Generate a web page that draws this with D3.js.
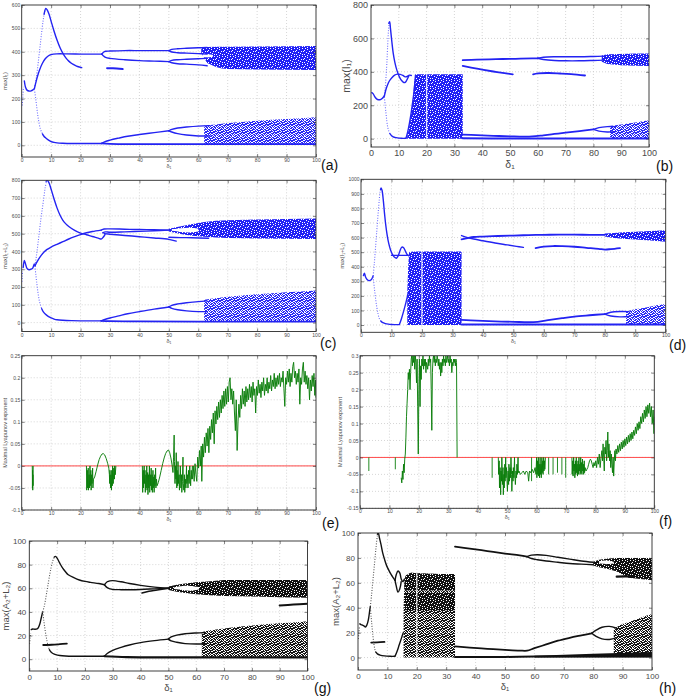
<!DOCTYPE html>
<html><head><meta charset="utf-8">
<script src="https://cdn.jsdelivr.net/npm/d3@7"></script>
<style>body{margin:0;background:#fff}svg{display:block}</style>
</head><body><svg id="c" width="689" height="697"></svg>
<script>
// ================= DATA =================
const xTicks = [0,10,20,30,40,50,60,70,80,90,100];
const aYTicks = [0,100,200,300,400,500,600];
const bYTicks = [0,200,400,600,800];
const cYTicks = [0,100,200,300,400,500,600,700,800];
const dYTicks = [0,100,200,300,400,500,600,700,800,900,1000];
const eYTicks = [-0.1,-0.05,0,0.05,0.1,0.15,0.2,0.25];
const fYTicks = [-0.15,-0.1,-0.05,0,0.05,0.1,0.15,0.2,0.25,0.3];
const gYTicks = [0,20,40,60,80,100];
const hYTicks = [0,20,40,60,80,100];

// ---- panel (a): max(I1) ----
const aStartDot = [[0.2,170],[0.4,210],[0.6,250]];
const aStart = [[0.9,275],[1.3,248],[1.8,236],[2.5,232],[3.2,233],[3.8,237],[4.3,242]];
const aUpDot = [[4.3,242],[4.8,275],[5.3,320],[5.8,375],[6.3,430],[6.8,485],[7.3,535],[7.8,570],[8.2,585]];
const aPeak = [[7.6,560],[8.2,585],[8.7,578],[9.3,560],[10,530],[11,488],[12,450],[13,418],[14,393],[15,374],[16,360],[17,350],[18,343],[19,337],[20.4,332]];
const aMid = [[4.3,242],[4.8,268],[5.3,292],[6,320],[7,350],[8,370],[9,382],[10,388],[12,391],[15,391],[20,390],[25,390],[27.2,390]];
const aMidUp = [[27.2,390],[27.8,398],[28.5,402],[30,403],[35,405],[40,405],[45,405],[50,405]];
const aMidLo = [[27.2,390],[27.8,382],[28.5,376],[30,372],[35,366],[40,362],[45,360],[50,358]];
const aMidUpUp = [[50,405],[51,410],[53,413],[56,415],[60,417],[63,418]];
const aMidUpLo = [[50,405],[51,399],[53,396],[56,394],[60,392],[63,390]];
const aMidLoUp = [[50,358],[51,363],[53,366],[56,368],[60,370],[63,372]];
const aMidLoLo = [[50,358],[51,353],[53,349],[56,347],[60,344],[63,340]];
const aDash = [[29,330],[31,329],[34.3,326]];
const aDownDot = [[4.3,240],[4.7,205],[5.1,165],[5.5,125],[5.9,95],[6.3,72],[6.7,58],[7.1,48]];
const aLow = [[7.1,48],[7.5,40],[8,33],[9,23],[10,16],[11,12.5],[12,10.5],[14,9],[17,8],[20,8],[24,8],[27.2,8]];
const aLowRise = [[27.2,8],[28,14],[30,22],[33,31],[36,39],[40,46],[45,54],[50,62]];
const aBase = [[27.2,8],[30,6],[40,5],[60,5],[80,5],[100,5]];
const aLowUp = [[50,62],[51,68],[53,74],[56,78],[60,82],[64,84]];
const aLowLo = [[50,62],[51,57],[53,50],[56,44],[60,40],[64,40]];
const aBandTop = [[61,395,419],[63,352,420],[66,335,421],[68,328,421],[70,326,422],[80,324,423],[90,323,424],[100,322,425]];
const aHoleTop = [[61.5,377,391],[63,376,390],[65,379,386]];
const aBandLow = [[62,5,85],[64,5,87],[66,5,89],[70,5,95],[75,5,100],[80,5,105],[85,5,109],[90,5,112],[95,5,116],[100,5,120]];

// ---- panel (b): max(I1) ----
const bStart = [[0.3,275],[0.8,268],[1.4,250],[2,238],[2.7,233],[3.4,234],[4,240],[4.8,255]];
const bUpDot = [[4.8,255],[5.1,300],[5.4,370],[5.7,450],[6,560],[6.3,650],[6.6,700]];
const bPeak = [[6.4,690],[6.7,700],[7,660],[7.5,580],[8,510],[8.6,455],[9.3,410],[10.2,370],[11,348],[11.8,336],[12.4,338],[13,355],[13.6,375]];
const bMid = [[4.8,255],[5.3,290],[5.9,320],[6.6,345],[7.5,365],[8.5,380],[9.5,386],[10.5,385],[11.5,378],[12.3,370],[13,372],[13.8,380],[14.5,378]];
const bDownDot = [[4.8,250],[5.1,200],[5.4,150],[5.7,105],[6,70],[6.4,45],[6.8,30]];
const bLow = [[6.8,30],[7.4,18],[8,11],[9,6],[10,3],[11,2],[12.5,2]];
const bRise = [[12.6,2],[13.2,40],[13.8,90],[14.4,150],[15,220],[15.6,300],[16,380]];
const bBlock = [[13,0,10],[14,0,90],[15,0,220],[15.5,0,330],[16,0,385],[20,0,386],[25,0,386],[30,0,386],[33,0,386]];
const bWin = [[20,0,386]];
const bTop = [[33,470],[38,473],[45,476],[52,478],[58,480],[60,481]];
const bTopUp = [[60,481],[62,487],[66,490],[70,490],[75,490],[80,492],[84,494]];
const bTopLo = [[60,481],[62,474],[66,468],[70,466],[75,466],[80,468],[84,470]];
const bBandTop = [[83,460,497],[85,447,505],[90,440,507],[95,437,509],[100,435,510]];
const bDesc = [[33,435],[36,425],[40,413],[44,402],[48,392],[51,385]];
const bSeg = [[58.3,385],[60,391],[64,393],[68,390],[72,386],[77,378]];
const bLowLine = [[33,24],[38,21],[44,17],[50,14],[55,12],[58,13],[62,20],[66,28],[70,36],[75,45],[80,55]];
const bLowUp = [[80,55],[82,66],[85,72],[88,72]];
const bLowLo = [[80,55],[82,45],[85,40],[88,42]];
const bBandLow = [[86,2,75],[90,2,85],[95,2,97],[100,2,110]];
const bBase = [[33,2],[50,1],[70,1],[100,1]];

// ---- panel (c): max(I1+L1) ----
const cStartDot = [[0.1,230],[0.2,260],[0.3,290]];
const cStart = [[0.5,310],[0.9,350],[1.3,330],[1.8,305],[2.5,297],[3.2,300],[3.8,308],[4.3,330],[4.6,318]];
const cUpDot = [[4.5,320],[5,375],[5.5,440],[6,510],[6.5,580],[7,640],[7.5,700],[8,760],[8.5,800]];
const cPeak = [[8.3,795],[8.7,800],[9.3,785],[10,750],[11,695],[12,645],[13,605],[14,575],[15,555],[16,540],[18,518],[20,503],[22,494],[24,484],[26,475],[27,470],[27.6,478],[28.3,495]];
const cMid = [[4.5,320],[5,335],[5.5,350],[6.5,375],[7.5,395],[8.5,410],[10,425],[12,440],[14,455],[16,470],[18,483],[20,495],[22,505],[24,512],[27,520]];
const cAfterUp = [[27,520],[28,526],[30,527],[35,525],[40,523],[45,522],[50,520]];
const cAfterLo = [[27.5,505],[28.5,510],[30,508],[35,510],[40,513],[45,516],[50,520]];
const cDesc1 = [[28,500],[30,497],[35,490],[40,483],[45,476],[50,468],[52.5,458]];
const cDesc2 = [[50,480],[54,478],[58,477],[63.5,474]];
const cBandTop = [[50,512,528],[52,505,535],[55,495,545],[58,488,555],[62,482,565],[66,478,572],[70,475,576],[80,473,580],[90,471,583],[100,470,585]];
const cHoleTop = [[51,516,524],[54,510,530],[57,507,533],[60,512,528]];
const cDownDot = [[4.5,318],[4.8,270],[5.1,225],[5.4,185],[5.7,150],[6,122],[6.4,98],[6.8,78]];
const cLow = [[6.8,78],[7.3,62],[8,48],[9,35],[10,26],[11,20],[12,16],[14,13],[17,11],[20,10],[24,10],[27,10]];
const cLowRise = [[27,10],[28,16],[30,26],[33,38],[36,50],[40,62],[45,76],[50,88]];
const cBase = [[27,10],[30,8],[40,7],[60,6],[100,6]];
const cLowUp = [[50,88],[51,97],[53,105],[56,112],[60,118],[63,122]];
const cLowLo = [[50,88],[51,80],[53,72],[56,66],[60,62],[63,62]];
const cBandLow = [[62,5,128],[65,5,135],[70,5,145],[75,5,153],[80,5,160],[85,5,165],[90,5,170],[95,5,175],[100,5,180]];

// ---- panel (d): max(I1+L1) ----
const dStart = [[0.8,340],[1.1,355],[1.5,330],[2,312],[2.5,305],[3,306],[3.5,315],[4,338]];
const dUpDot = [[4,338],[4.4,430],[4.8,540],[5.2,650],[5.6,760],[6,860],[6.3,920],[6.6,940]];
const dPeak = [[6.4,930],[6.6,940],[6.9,925],[7.3,860],[7.7,770],[8.1,690],[8.6,615],[9.1,560],[9.7,515],[10.3,485],[11,465],[11.6,458],[12.2,475],[12.8,510],[13.4,535],[14,530],[14.6,505],[15.2,482],[15.8,475]];
const dFlat = [[10,478],[12,478],[14,478],[16,478]];
const dDownDot = [[4,330],[4.4,250],[4.8,180],[5.2,120],[5.6,75],[6,45],[6.5,28]];
const dLow = [[6.5,28],[7,18],[8,10],[9,6],[10,4],[11,3],[12.5,3]];
const dRise = [[12.6,3],[13.3,45],[14,95],[14.7,150],[15.4,210]];
const dBlock = [[15.2,0,230],[15.5,0,400],[15.8,0,500],[17,0,505],[20,0,505],[25,0,505],[30,0,505],[33,0,505]];
const dWin = [[20,0,505]];
const dTop = [[33,588],[35,597],[37,604],[40,607],[45,611],[50,614],[55,617],[60,619],[65,620],[70,620],[75,619],[80,618]];
const dDesc = [[33,614],[35,600],[37,590],[40,578],[44,563],[48,550],[51,540],[53.3,533]];
const dSeg = [[57.3,528],[60,538],[63,542],[66,541],[70,537],[74,530],[78,523],[80,518],[82,521],[85,528]];
const dBandTop = [[80,607,628],[83,598,632],[86,592,636],[90,587,640],[95,580,645],[100,572,650]];
const dLowLine = [[33,35],[38,30],[44,25],[50,22],[55,19],[58,22],[62,35],[66,47],[70,58],[75,67],[80,75]];
const dLowUp = [[80,75],[82,88],[85,93],[88,92]];
const dLowLo = [[80,75],[82,62],[85,56],[88,58]];
const dBandLow = [[87,3,95],[90,3,108],[94,3,122],[97,3,135],[100,3,145]];
const dBase = [[33,3],[60,3],[100,3]];

// ---- panel (e): maximal Lyapunov exponent ----
const eSeg1 = [[3.6,0],[3.65,-0.05],[3.7,-0.01],[3.75,-0.055],[3.8,-0.02],[3.85,-0.045],[3.9,0]];
const eSeg2 = [[22,0],[22.1,-0.055],[22.3,-0.01],[22.4,-0.05],[22.6,-0.005],[22.7,-0.055],[22.9,-0.02],[23.0,-0.05],[23.2,0],[23.3,-0.045],[23.5,-0.01],[23.6,-0.055],[23.8,-0.02],[23.9,-0.04],[24.1,-0.005],[24.2,-0.05],[24.4,-0.03],
 [24.8,-0.025],[25.3,-0.012],[25.8,0.002],[26.3,0.014],[26.8,0.022],[27.3,0.027],[27.7,0.028],[28.2,0.025],[28.7,0.017],[29.2,0.006],[29.6,-0.005],
 [29.8,-0.02],[29.9,-0.04],[30.0,-0.01],[30.2,-0.05],[30.3,-0.02],[30.5,-0.055],[30.6,-0.01],[30.8,-0.045],[30.9,0],[31.1,-0.04],[31.3,-0.005],[31.5,-0.03],[31.6,0],[31.8,-0.02],[32,0]];
const eSeg3 = [[41,0],[41.1,-0.06],[41.3,-0.01],[41.4,-0.05],[41.6,0],[41.7,-0.04],[41.9,-0.01],[42,-0.06],[42.2,-0.02],[42.3,-0.05],[42.5,0],[42.6,-0.055],[42.8,-0.015],[42.9,-0.065],[43.1,-0.02],[43.2,-0.05],[43.4,0],[43.5,-0.06],[43.7,-0.02],[43.8,-0.045],[44,-0.005],[44.1,-0.055],[44.3,-0.02],[44.4,-0.06],[44.6,-0.01],[44.7,-0.05],[44.9,-0.025],[45,-0.06],[45.2,-0.02],[45.3,-0.045],[45.5,-0.005],[45.6,-0.05],[45.8,-0.03],[46,-0.045],
 [46.4,-0.038],[46.9,-0.025],[47.4,-0.01],[47.9,0.005],[48.4,0.018],[48.9,0.028],[49.4,0.034],[49.9,0.036],[50.3,0.03],[50.7,0.018],[51.1,0.002],[51.4,-0.015],
 [51.6,0.02],[51.8,0.07],[51.9,0.01],[52.1,-0.04],[52.2,0.0],[52.4,-0.03],[52.5,0.03],[52.7,-0.05],[52.8,-0.01],[53,-0.045],[53.1,0.01],[53.3,-0.04],[53.5,-0.02],[53.6,-0.055],[53.8,-0.03],[53.9,0.0],[54.1,-0.05],[54.3,-0.02],[54.4,-0.06],[54.6,-0.035],[54.8,0.02],[54.9,-0.04],[55.1,-0.055],[55.3,-0.02],[55.4,-0.06],[55.6,-0.03],[55.8,-0.05],[56,0],[56.1,-0.04],[56.3,-0.02],[56.5,-0.05],[56.7,-0.01],[56.9,-0.04],[57.1,0],[57.2,-0.02],[57.4,-0.045],[57.6,-0.01],[57.8,-0.03],[58,0]];
const eSeg4 = [[58.0,-0.03],[58.3,0.0],[58.6,-0.035],[58.9,0.005],[59.2,-0.02],[59.5,-0.035],[59.8,0.02],[60.1,-0.005],[60.4,0.035],[60.7,0.0],[61.0,0.045],[61.2,-0.035],[61.5,0.05],[61.8,0.02],[62.1,0.065],[62.4,0.03],[62.7,0.075],[63.0,0.045],[63.3,0.085],[63.6,0.03],[63.9,0.09],[64.2,0.06],[64.5,0.105],[64.8,0.075],[65.1,0.12],[65.4,0.05],[65.7,0.125],[66.0,0.095],[66.3,0.135],[66.6,0.105],[66.9,0.145],[67.2,0.11],[67.5,0.15],[67.8,0.12],[68.1,0.16],[68.4,0.13],[68.7,0.17],[69.0,0.135],[69.3,0.175],[69.6,0.14],[69.9,0.18],[70.2,0.145],[70.5,0.19],[70.8,0.2],[71.1,0.15],[71.4,0.175],[71.7,0.14],[72.0,0.17],[72.3,0.12],[72.6,0.08],[72.9,0.15],[73.2,0.035],[73.5,0.1],[73.8,0.14],[74.1,0.11],[74.4,0.16],[74.7,0.13],[75.0,0.175],[75.3,0.14],[75.6,0.17],[75.9,0.135],[76.2,0.18],[76.5,0.145],[76.8,0.175],[77.1,0.15],[77.4,0.185],[77.7,0.155],[78.0,0.18],[78.3,0.145],[78.6,0.19],[78.9,0.16],[79.2,0.175],[79.5,0.12],[79.8,0.18],[80.1,0.16],[80.4,0.195],[80.7,0.165],[81.0,0.185],[81.3,0.155],[81.6,0.19],[81.9,0.17],[82.2,0.2],[82.5,0.16],[82.8,0.185],[83.1,0.17],[83.4,0.2],[83.7,0.165],[84.0,0.19],[84.3,0.175],[84.6,0.205],[84.9,0.17],[85.2,0.195],[85.5,0.18],[85.8,0.21],[86.1,0.175],[86.4,0.2],[86.7,0.18],[87.0,0.205],[87.3,0.185],[87.6,0.21],[87.9,0.18],[88.2,0.2],[88.5,0.19],[88.8,0.215],[89.1,0.175],[89.4,0.135],[89.7,0.2],[90.0,0.185],[90.3,0.215],[90.6,0.19],[90.9,0.22],[91.2,0.18],[91.5,0.21],[91.8,0.19],[92.1,0.225],[92.4,0.235],[92.7,0.2],[93.0,0.215],[93.3,0.185],[93.6,0.21],[93.9,0.19],[94.2,0.22],[94.5,0.14],[94.8,0.2],[95.1,0.185],[95.4,0.22],[95.7,0.235],[96.0,0.19],[96.3,0.215],[96.6,0.185],[96.9,0.205],[97.2,0.175],[97.5,0.2],[97.8,0.15],[98.1,0.195],[98.4,0.17],[98.7,0.205],[99.0,0.18],[99.3,0.21],[99.6,0.16],[99.9,0.195],[100,0.155]];

// ---- panel (f): maximal Lyapunov exponent ----
const fSpikes = [[3,-0.04],[12,-0.035],[44.9,-0.06],[58.3,-0.07],[64.1,-0.05],[65.6,-0.05],[67.1,-0.045],[68.6,-0.05],[69.9,-0.06]];
const fSeg3 = [[14.0,-0.06],[14.2,-0.075],[14.4,-0.04],[14.6,-0.065],[14.8,-0.02],[15.0,-0.045],[15.2,-0.005],[15.4,0.01],[15.6,0.06],[15.8,0.12],[16.0,0.16],[16.2,0.2],[16.4,0.25],[16.6,0.23],[16.8,0.26],[17.0,0.2],[17.2,0.25],[17.4,0.29],[17.6,0.3],[17.8,0.27],[18.0,0.3],[18.2,0.28],[18.4,0.3],[18.6,0.26],[18.8,0.3],[19.0,0.28],[19.2,0.22],[19.4,0.29],[19.6,0.15],[19.8,0.01],[20.0,0.2],[20.2,0.29],[20.4,0.15],[20.6,0.27],[20.8,0.23],[21.0,0.29],[21.2,0.27],[21.4,0.3],[21.6,0.26],[21.8,0.29],[22.0,0.27],[22.2,0.29],[22.4,0.25],[22.6,0.28],[22.8,0.27],[23.0,0.26],[23.2,0.29],[23.4,0.27],[23.6,0.3],[23.8,0.28],[24.0,0.29],[24.2,0.2],[24.4,0.08],[24.6,0.25],[24.8,0.29],[25.0,0.3],[25.2,0.28],[25.4,0.3],[25.6,0.27],[25.8,0.29],[26.0,0.28],[26.2,0.3],[26.4,0.29],[26.6,0.27],[26.8,0.29],[27.0,0.26],[27.2,0.28],[27.4,0.24],[27.6,0.28],[27.8,0.25],[28.0,0.29],[28.2,0.27],[28.4,0.3],[28.6,0.28],[28.8,0.29],[29.0,0.27],[29.2,0.3],[29.4,0.28],[29.6,0.29],[29.8,0.3],[30.0,0.28],[30.2,0.29],[30.4,0.27],[30.6,0.3],[30.8,0.28],[31.0,0.29],[31.2,0.25],[31.4,0.28],[31.6,0.27],[31.8,0.29],[32.0,0.28],[32.2,0.29],[32.4,0.27],[32.6,0.29],[32.8,0.28],[33.0,0.0]];
const fSeg5 = [[47,0],[47.1,-0.05],[47.3,-0.01],[47.4,-0.09],[47.6,-0.03],[47.8,-0.11],[47.9,-0.04],[48.1,-0.07],[48.2,0],[48.4,-0.08],[48.6,-0.03],[48.7,-0.11],[48.9,-0.05],[49.0,-0.09],[49.2,-0.02],[49.3,-0.07],[49.5,0],[49.6,-0.06],[49.8,-0.03],[50.0,-0.08],[50.1,-0.1],[50.3,-0.04],[50.5,-0.08],[50.6,-0.02],[50.8,-0.07],[51.0,-0.03],[51.1,-0.06],[51.3,0],[51.5,-0.05],[51.6,-0.1],[51.8,-0.04],[52.0,-0.07],[52.1,-0.03],[52.3,-0.06],[52.5,0],[52.6,-0.05],[52.8,-0.08],[53.0,-0.04],[53.2,-0.06],[53.3,-0.02],[53.5,-0.05],[53.7,0],[53.8,-0.045],[54.0,-0.04],[54.5,-0.05],[55,-0.045],[55.5,-0.04],[56,-0.05],[56.5,-0.04],[57,-0.045],[57.3,-0.07],[57.6,-0.04],[58,-0.045],[58.5,-0.035],[59,-0.045],[59.5,-0.03],[59.8,-0.05],
 [60.0,0],[60.1,-0.06],[60.3,-0.01],[60.4,-0.05],[60.6,0],[60.7,-0.055],[60.9,-0.02],[61,-0.06],[61.2,0],[61.3,-0.05],[61.5,-0.02],[61.6,-0.06],[61.8,0],[61.9,-0.045],[62.1,-0.01],[62.2,-0.05],[62.4,0],[62.5,-0.04],[62.7,-0.01],[62.8,-0.035],[63,0]];
const fSeg7 = [[72.0,0],[72.1,-0.05],[72.3,-0.01],[72.4,-0.055],[72.6,0],[72.7,-0.04],[72.9,-0.02],[73.0,-0.06],[73.2,-0.01],[73.3,-0.05],[73.5,0],[73.6,-0.045],[73.8,-0.02],[73.9,-0.055],[74.1,-0.01],[74.2,-0.05],[74.4,0],[74.5,-0.04],[74.7,-0.02],[74.8,-0.05],[75.0,0],[75.1,-0.045],[75.3,-0.015],[75.4,-0.05],[75.6,-0.005],[75.7,-0.04],[75.9,-0.02],[76.0,-0.05],[76.2,-0.01],[76.3,-0.045],[76.5,-0.03],[76.8,-0.04],[77.1,-0.035],[77.4,-0.03],[77.7,-0.02],[78.0,-0.01],[78.3,-0.005],[78.6,-0.01],[78.9,-0.02],[79.2,-0.03],[79.5,-0.015],[79.8,-0.025],[80.1,-0.01],[80.4,-0.03],[80.7,0.0],[81.0,-0.02],[81.3,0.01],[81.6,-0.03],[81.9,0.0],[82.2,0.02],[82.4,-0.01],[82.6,0.04],[82.8,0.0],[83.0,-0.04],[83.2,0.03],[83.4,0.01],[83.6,0.05],[83.8,-0.01],[84.0,0.02],[84.2,0.075],[84.4,0.0],[84.6,0.04],[84.8,-0.01],[85.0,0.02],[85.2,-0.03],[85.4,0.01],[85.6,-0.02],[85.8,-0.045],[86.0,0.0],[86.2,-0.055],[86.4,-0.01],[86.6,0.02],[86.8,-0.01],[87.0,0.025],[87.3,0.01],[87.6,0.035],[87.9,0.015],[88.2,0.04],[88.5,0.02],[88.8,0.045],[89.1,0.025],[89.4,0.05],[89.7,0.03],[90.0,0.055],[90.3,0.035],[90.6,0.06],[90.9,0.04],[91.2,0.065],[91.5,0.045],[91.8,0.07],[92.1,0.05],[92.4,0.075],[92.7,0.055],[93.0,0.08],[93.3,0.065],[93.6,0.09],[93.9,0.07],[94.2,0.1],[94.5,0.08],[94.8,0.105],[95.1,0.085],[95.4,0.12],[95.7,0.1],[96.0,0.13],[96.3,0.105],[96.6,0.14],[96.9,0.115],[97.2,0.15],[97.5,0.12],[97.8,0.155],[98.1,0.13],[98.4,0.16],[98.7,0.12],[99.0,0.15],[99.3,0.1],[99.6,0.14],[99.9,0.07],[100,0.12]];

// ---- panel (g): max(A2+L2) ----
const gStartDot = [[0.1,13],[0.3,18],[0.5,22]];
const gStart = [[0.7,25],[1.2,25.5],[2,25.3],[2.8,25.6],[3.3,27],[3.8,30],[4.3,35],[4.8,40]];
const gUpDot = [[4.8,40],[5.3,44],[5.8,50],[6.3,57],[6.8,64],[7.3,71],[7.8,77],[8.3,82],[8.8,85.5],[9.3,87]];
const gPeak = [[9,86.5],[9.4,87],[10,85.5],[11,81],[12,77],[13,74],[14,71.5],[16,69],[18,67],[20,65.8],[22,65],[25,64],[27,63]];
const gUp1 = [[27,63],[28,65.5],[29,66.3],[30,66.5],[33,65.5],[36,64],[40,62.5],[45,61],[50,60]];
const gLo1 = [[27,63],[28,60.5],[29,59.5],[30,59],[33,58.8],[36,58.8],[40,59],[45,59.5],[50,60]];
const gExtra = [[40.5,56],[43,57.5],[46,58.5],[50,60]];
const gBandTop = [[50,58.5,61.5],[53,57,63],[56,56,64],[60,55,65],[65,54,66],[70,53.5,67],[80,53,67],[90,52.5,67],[100,52,67]];
const gHoleTop = [[52,59.3,60.7],[55,58.5,62],[58,58,62],[61,59,61]];
const gSeg = [[90,45.5],[95,46.2],[100,47]];
const gShort = [[5,12],[8,12.2],[11,12.7],[13.5,13.2]];
const gDownDot = [[4.8,40],[5.2,33],[5.6,26],[6,20],[6.4,15],[6.8,11],[7.2,8]];
const gLow = [[7.2,8],[7.8,6],[8.5,4.8],[9.5,3.8],[11,3.1],[13,2.7],[16,2.5],[20,2.5],[27,2.5]];
const gLowRise = [[27,2.5],[28,4.8],[30,7.5],[33,10],[36,12],[40,14],[45,15.7],[50,17]];
const gBase = [[27,2.5],[35,1.8],[50,1.5],[100,1.5]];
const gLowUp = [[50,17],[51,18.8],[53,20.3],[56,21.5],[60,22.2],[63,22.5]];
const gLowLo = [[50,17],[51,15.5],[53,14.3],[56,13.2],[60,12.8],[63,13]];
const gBandLow = [[62,1,23],[65,1,24.5],[70,1,26],[75,1,27.5],[80,1,28.5],[85,1,29.5],[90,1,30.5],[95,1,31],[100,1,32]];

// ---- panel (h): max(A2+L2) ----
const hStartDot = [[0.1,15],[0.3,20],[0.5,25]];
const hStart = [[0.6,27],[1,26.5],[1.5,26],[2,25.5],[2.5,24.5],[3,26],[3.5,30],[4,38],[4.2,41]];
const hUpDot = [[4.2,41],[4.6,50],[5,60],[5.4,70],[5.8,80],[6.2,90],[6.6,98],[6.8,100]];
const hPeak = [[6.6,99],[6.9,100],[7.3,96],[7.8,91],[8.4,84],[9,79],[9.7,74],[10.5,70],[11.3,66.5],[12,64],[12.6,62]];
const hLoopUp = [[12.6,62],[13,66.5],[13.6,69.5],[14.2,68],[14.7,63],[15.2,61],[15.8,63]];
const hLoopLo = [[12.6,62],[13,57.5],[13.6,52.5],[14.2,55],[14.7,61]];
const hShort = [[4.5,12],[6.5,12.1],[9,12.5]];
const hDownDot = [[4.2,40],[4.5,32],[4.8,24],[5.1,17],[5.4,11],[5.7,7],[6,4.5]];
const hLow = [[6,4.5],[6.6,3],[7.5,2],[9,1.3],[11,1],[12.5,1]];
const hRise = [[12.6,1],[13.3,5],[14,10],[14.7,15],[15.4,20]];
const hBlock = [[15.5,0,40],[15.8,0,62],[16.3,0,66],[18,0,68],[22,0,67.5],[28,0,67],[33,0,67]];
const hBlockDense1 = [[15.8,54,62],[16.3,54,66],[18,54,68],[22,54,67.5],[28,54,67],[33,54,67]];
const hBlockDense2 = [[16,38,52],[22,38,52],[28,38,52],[33,38,52]];
const hWin = [[20,0,68]];
const hTop = [[33,89],[38,87.5],[44,85.5],[50,83.5],[55,82],[57.5,81]];
const hTopUp = [[57.5,81],[59,82.2],[61,82.5],[64,82],[68,80.5],[72,79],[76,77.5],[80,76.5]];
const hTopLo = [[57.5,81],[59,79.5],[61,78.5],[64,77.5],[68,76.5],[72,75.5],[76,75],[80,74.5]];
const hBandTop = [[80,74,77],[82,72.5,78.5],[85,71,79.5],[88,69,80],[92,64,80],[96,63,80],[100,62,80]];
const hHoleTop = [[82,75.5,77.5],[84.5,75,78],[87,75.5,77]];
const hSeg = [[88,65],[91,65.2],[94,65]];
const hLowLine = [[33,9],[38,8],[44,7],[50,6.2],[55,5.6],[57.5,5.5],[60,7.5],[64,10.5],[68,13.5],[72,15.8],[76,17.8],[79.5,19.5]];
const hLowUp = [[79.5,19.5],[81,22],[83,24.3],[85.5,25],[88,23.5]];
const hLowLo = [[79.5,19.5],[81,17],[83,15],[85.5,14.5],[88,16]];
const hBandLow = [[87,0.5,23],[89,0.5,26],[92,0.5,28.5],[95,0.5,31],[98,0.5,33.5],[100,0.5,35]];
const hBase = [[33,0.5],[50,0.5],[60,0.8],[80,1],[100,1]];
const hBaseBand = [[60,0,1.5],[80,0,3],[100,0,4.5]];

// ================= DRAWING =================
const svg = d3.select('#c');
const defs = svg.append('defs');
const BLUE = '#2323f2', BLUE_D = '#6d6dff', BLACK = '#111', BLACK_D = '#555', GREEN = '#0b7d0b';

function mkPattern(id, color, size, whites){
  const p = defs.append('pattern').attr('id', id).attr('width', size).attr('height', size).attr('patternUnits', 'userSpaceOnUse');
  p.append('rect').attr('width', size).attr('height', size).attr('fill', color);
  whites.forEach(w => p.append('rect').attr('x', w[0]).attr('y', w[1]).attr('width', 1).attr('height', 1).attr('fill', '#fff'));
}
const denseW = [[1,0],[6,0],[3,1],[0,2],[5,3],[7,3],[2,4],[4,5],[0,6],[6,6],[3,7]];
const sparseW = [[0,0],[1,0],[4,0],[6,0],[2,1],[3,1],[7,1],[0,2],[5,2],[6,2],[1,3],[3,3],[4,3],[0,4],[7,4],[2,5],[5,5],[6,5],[1,6],[3,6],[4,6],[7,6],[0,7],[2,7],[5,7]];
mkPattern('pBD', '#2020f5', 8, denseW);
mkPattern('pBS', '#2a2af5', 8, sparseW);
mkPattern('pKD', '#111', 8, denseW);
mkPattern('pKS', '#161616', 8, sparseW);

const L = (d, c, w) => ({t:'line', d, c, w});
const D = (d, c) => ({t:'dot', d, c});
const B = (d, f) => ({t:'band', d, f});
const H = d => ({t:'hole', d});
const W = d => ({t:'win', d});
const N = (d, c) => ({t:'noisy', d, c});
const S = (d, c) => ({t:'spike', d, c});

const FONT = "'Liberation Sans', Arial, sans-serif";

const panels = [
 {id:'a', l:21.7, r:316, t:5, b:157, yd:[-50,600], yt:aYTicks, fs:5, ylab:'max(I\u2081)', ylx:5, xly:168, let:'(a)', lx:321, ly:170,
  layers:[B(aBandTop,'url(#pBD)'), H(aHoleTop), B(aBandLow,'url(#pBS)'),
   D(aStartDot,BLUE_D), L(aStart,BLUE), D(aUpDot,BLUE_D), L(aPeak,BLUE), L(aMid,BLUE), L(aMidUp,BLUE), L(aMidLo,BLUE),
   L(aMidUpUp,BLUE), L(aMidUpLo,BLUE), L(aMidLoUp,BLUE), L(aMidLoLo,BLUE), L(aDash,BLUE,2), D(aDownDot,BLUE_D), L(aLow,BLUE),
   L(aLowRise,BLUE), L(aBase,BLUE,1.8), L(aLowUp,BLUE), L(aLowLo,BLUE)]},
 {id:'b', l:371, r:649, t:5, b:147, yd:[-50,800], yt:bYTicks, fs:9, ylab:'max(I\u2081)', ylx:346, xly:168, let:'(b)', lx:656, ly:171,
  layers:[B(bBlock,'url(#pBD)'), W(bWin), B(bBandTop,'url(#pBD)'), B(bBandLow,'url(#pBS)'),
   L(bStart,BLUE), D(bUpDot,BLUE_D), L(bPeak,BLUE), L(bMid,BLUE), D(bDownDot,BLUE_D), L(bLow,BLUE), L(bRise,BLUE),
   L(bTop,BLUE,1.8), L(bTopUp,BLUE), L(bTopLo,BLUE), L(bDesc,BLUE,1.8), L(bSeg,BLUE,1.8), L(bLowLine,BLUE,1.8), L(bLowUp,BLUE), L(bLowLo,BLUE), L(bBase,BLUE,2)]},
 {id:'c', l:21.7, r:316, t:180.3, b:331.5, yd:[-50,800], yt:cYTicks, fs:5, ylab:'max(I\u2081+L\u2081)', ylx:5, xly:342.5, let:'(c)', lx:320, ly:348,
  layers:[B(cBandTop,'url(#pBD)'), H(cHoleTop), B(cBandLow,'url(#pBS)'),
   D(cStartDot,BLUE_D), L(cStart,BLUE), D(cUpDot,BLUE_D), L(cPeak,BLUE), L(cMid,BLUE), L(cAfterUp,BLUE), L(cAfterLo,BLUE),
   L(cDesc1,BLUE), L(cDesc2,BLUE), D(cDownDot,BLUE_D), L(cLow,BLUE), L(cLowRise,BLUE), L(cBase,BLUE,1.8), L(cLowUp,BLUE), L(cLowLo,BLUE)]},
 {id:'d', l:361, r:665.7, t:179.3, b:332.3, yd:[-50,1000], yt:dYTicks, fs:5, ylab:'max(I\u2081+L\u2081)', ylx:342, xly:343, let:'(d)', lx:669, ly:350,
  layers:[B(dBlock,'url(#pBD)'), W(dWin), B(dBandTop,'url(#pBD)'), B(dBandLow,'url(#pBS)'),
   L(dStart,BLUE), D(dUpDot,BLUE_D), L(dPeak,BLUE), L(dFlat,BLUE), D(dDownDot,BLUE_D), L(dLow,BLUE), L(dRise,BLUE),
   L(dTop,BLUE,1.8), L(dDesc,BLUE), L(dSeg,BLUE,1.8), L(dLowLine,BLUE,1.8), L(dLowUp,BLUE), L(dLowLo,BLUE), L(dBase,BLUE,2)]},
 {id:'e', l:21.7, r:316, t:355.7, b:510, yd:[-0.1,0.25], yt:eYTicks, fs:5, ylab:'Maximal Lyapunov exponent', ylx:5, xly:520.5, let:'(e)', lx:322, ly:528, zero:true,
  layers:[N(eSeg1,GREEN), N(eSeg2,GREEN), N(eSeg3,GREEN), N(eSeg4,GREEN)]},
 {id:'f', l:360, r:654.3, t:355.7, b:508.3, yd:[-0.15,0.3], yt:fYTicks, fs:5, ylab:'Maximal Lyapunov exponent', ylx:340, xly:519, let:'(f)', lx:659, ly:526, zero:true,
  layers:[S(fSpikes,GREEN), N(fSeg3,GREEN), N(fSeg5,GREEN), N(fSeg7,GREEN)]},
 {id:'g', l:29.3, r:307.5, t:541, b:671, yd:[-10,100], yt:gYTicks, fs:8, ylab:'max(A\u2082+L\u2082)', ylx:6, xly:691, let:'(g)', lx:314, ly:693,
  layers:[B(gBandTop,'url(#pKD)'), H(gHoleTop), B(gBandLow,'url(#pKS)'),
   D(gStartDot,BLACK_D), L(gStart,BLACK), D(gUpDot,BLACK_D), L(gPeak,BLACK), L(gUp1,BLACK), L(gLo1,BLACK), L(gExtra,BLACK),
   L(gSeg,BLACK,2), L(gShort,BLACK,1.8), D(gDownDot,BLACK_D), L(gLow,BLACK), L(gLowRise,BLACK), L(gBase,BLACK,2.2), L(gLowUp,BLACK), L(gLowLo,BLACK)]},
 {id:'h', l:358, r:652, t:533, b:670, yd:[-10,100], yt:hYTicks, fs:8, ylab:'max(A\u2082+L\u2082)', ylx:336, xly:690, let:'(h)', lx:659, ly:693,
  layers:[B(hBlock,'url(#pKS)'), B(hBlockDense1,'url(#pKD)'), B(hBlockDense2,'url(#pKD)'), W(hWin),
   B(hBandTop,'url(#pKD)'), H(hHoleTop), B(hBandLow,'url(#pKS)'), B(hBaseBand,'#111'),
   D(hStartDot,BLACK_D), L(hStart,BLACK), D(hUpDot,BLACK_D), L(hPeak,BLACK), L(hLoopUp,BLACK), L(hLoopLo,BLACK), L(hShort,BLACK,1.8),
   D(hDownDot,BLACK_D), L(hLow,BLACK), L(hRise,BLACK), L(hTop,BLACK,1.8), L(hTopUp,BLACK), L(hTopLo,BLACK), L(hSeg,BLACK,2.2),
   L(hLowLine,BLACK,1.8), L(hLowUp,BLACK), L(hLowLo,BLACK), L(hBase,BLACK,2)]}
];

function fmtY(d){ return Math.abs(d) < 1e-9 ? '0' : String(+d.toFixed(2)); }

panels.forEach(p => {
  const x = d3.scaleLinear([0,100], [p.l, p.r]);
  const y = d3.scaleLinear(p.yd, [p.b, p.t]);
  const g = svg.append('g');
  defs.append('clipPath').attr('id', 'clip' + p.id).append('rect')
    .attr('x', p.l).attr('y', p.t).attr('width', p.r - p.l).attr('height', p.b - p.t);

  const grid = g.append('g').attr('stroke', '#c4c4c4').attr('stroke-width', 0.7).attr('stroke-dasharray', '1,2');
  grid.selectAll('.gx').data(xTicks.slice(1, -1)).join('line')
    .attr('x1', d => x(d)).attr('x2', d => x(d)).attr('y1', p.t).attr('y2', p.b);
  grid.selectAll('.gy').data(p.yt.filter(v => y(v) > p.t + 0.5)).join('line')
    .attr('y1', d => y(d)).attr('y2', d => y(d)).attr('x1', p.l).attr('x2', p.r);

  const plot = g.append('g').attr('clip-path', `url(#clip${p.id})`);
  const line = d3.line().x(d => x(d[0])).y(d => y(d[1])).curve(d3.curveCatmullRom.alpha(0.5));
  const lineLin = d3.line().x(d => x(d[0])).y(d => y(d[1]));
  const area = d3.area().x(d => x(d[0])).y0(d => y(d[1])).y1(d => y(d[2]));
  const areaSmooth = d3.area().x(d => x(d[0])).y0(d => y(d[1])).y1(d => y(d[2])).curve(d3.curveCatmullRom);

  if (p.zero) {
    plot.append('line').attr('x1', p.l).attr('x2', p.r).attr('y1', y(0)).attr('y2', y(0))
      .attr('stroke', '#ff4a4a').attr('stroke-width', 1);
  }
  p.layers.forEach(Ly => {
    if (Ly.t === 'band') plot.append('path').attr('d', area(Ly.d)).attr('fill', Ly.f);
    else if (Ly.t === 'hole') plot.append('path').attr('d', areaSmooth(Ly.d)).attr('fill', '#fff');
    else if (Ly.t === 'win') plot.selectAll(null).data(Ly.d).join('line')
      .attr('x1', d => x(d[0])).attr('x2', d => x(d[0])).attr('y1', d => y(d[1])).attr('y2', d => y(d[2]))
      .attr('stroke', '#fff').attr('stroke-width', 1.3).attr('opacity', 0.85);
    else if (Ly.t === 'line') plot.append('path').attr('d', line(Ly.d)).attr('fill', 'none')
      .attr('stroke', Ly.c).attr('stroke-width', Ly.w || 1.4).attr('stroke-linecap', 'round');
    else if (Ly.t === 'dot') plot.append('path').attr('d', line(Ly.d)).attr('fill', 'none')
      .attr('stroke', Ly.c).attr('stroke-width', 1.1).attr('stroke-dasharray', '1,1.6');
    else if (Ly.t === 'noisy') plot.append('path').attr('d', lineLin(Ly.d)).attr('fill', 'none')
      .attr('stroke', Ly.c).attr('stroke-width', 0.95);
    else if (Ly.t === 'spike') plot.selectAll(null).data(Ly.d).join('line')
      .attr('x1', d => x(d[0])).attr('x2', d => x(d[0])).attr('y1', y(0)).attr('y2', d => y(d[1]))
      .attr('stroke', Ly.c).attr('stroke-width', 0.9);
  });

  g.append('rect').attr('x', p.l).attr('y', p.t).attr('width', p.r - p.l).attr('height', p.b - p.t)
    .attr('fill', 'none').attr('stroke', '#2a2a2a').attr('stroke-width', 0.9);

  const pad = p.fs > 6 ? 3 : 1.5;
  const styleAxis = sel => {
    sel.select('.domain').remove();
    sel.selectAll('line').attr('stroke', '#333').attr('stroke-width', 0.6);
    sel.selectAll('text').attr('font-family', FONT).attr('font-size', p.fs).attr('fill', '#4a4a4a');
  };
  g.append('g').attr('transform', `translate(0,${p.b})`)
    .call(d3.axisBottom(x).tickValues(xTicks).tickSize(-3).tickPadding(pad).tickFormat(d3.format('d'))).call(styleAxis);
  g.append('g').attr('transform', `translate(0,${p.t})`)
    .call(d3.axisTop(x).tickValues(xTicks).tickSize(-3).tickFormat('')).call(styleAxis);
  g.append('g').attr('transform', `translate(${p.l},0)`)
    .call(d3.axisLeft(y).tickValues(p.yt).tickSize(-3).tickPadding(pad).tickFormat(fmtY)).call(styleAxis);
  g.append('g').attr('transform', `translate(${p.r},0)`)
    .call(d3.axisRight(y).tickValues(p.yt).tickSize(-3).tickFormat('')).call(styleAxis);

  const lfs = p.fs > 6 ? p.fs + 1.5 : p.fs + 0.5;
  g.append('text').attr('x', (p.l + p.r) / 2).attr('y', p.xly).attr('text-anchor', 'middle')
    .attr('font-family', FONT).attr('font-size', lfs).attr('fill', '#4a4a4a').text('\u03b4\u2081');
  g.append('text').attr('transform', `translate(${p.ylx},${(p.t + p.b) / 2}) rotate(-90)`)
    .attr('text-anchor', 'middle').attr('dy', '0.35em')
    .attr('font-family', FONT).attr('font-size', lfs).attr('fill', '#4a4a4a').text(p.ylab);
  g.append('text').attr('x', p.lx).attr('y', p.ly).attr('font-family', FONT)
    .attr('font-size', 14).attr('fill', '#111').text(p.let);
});
</script>
</body></html>
